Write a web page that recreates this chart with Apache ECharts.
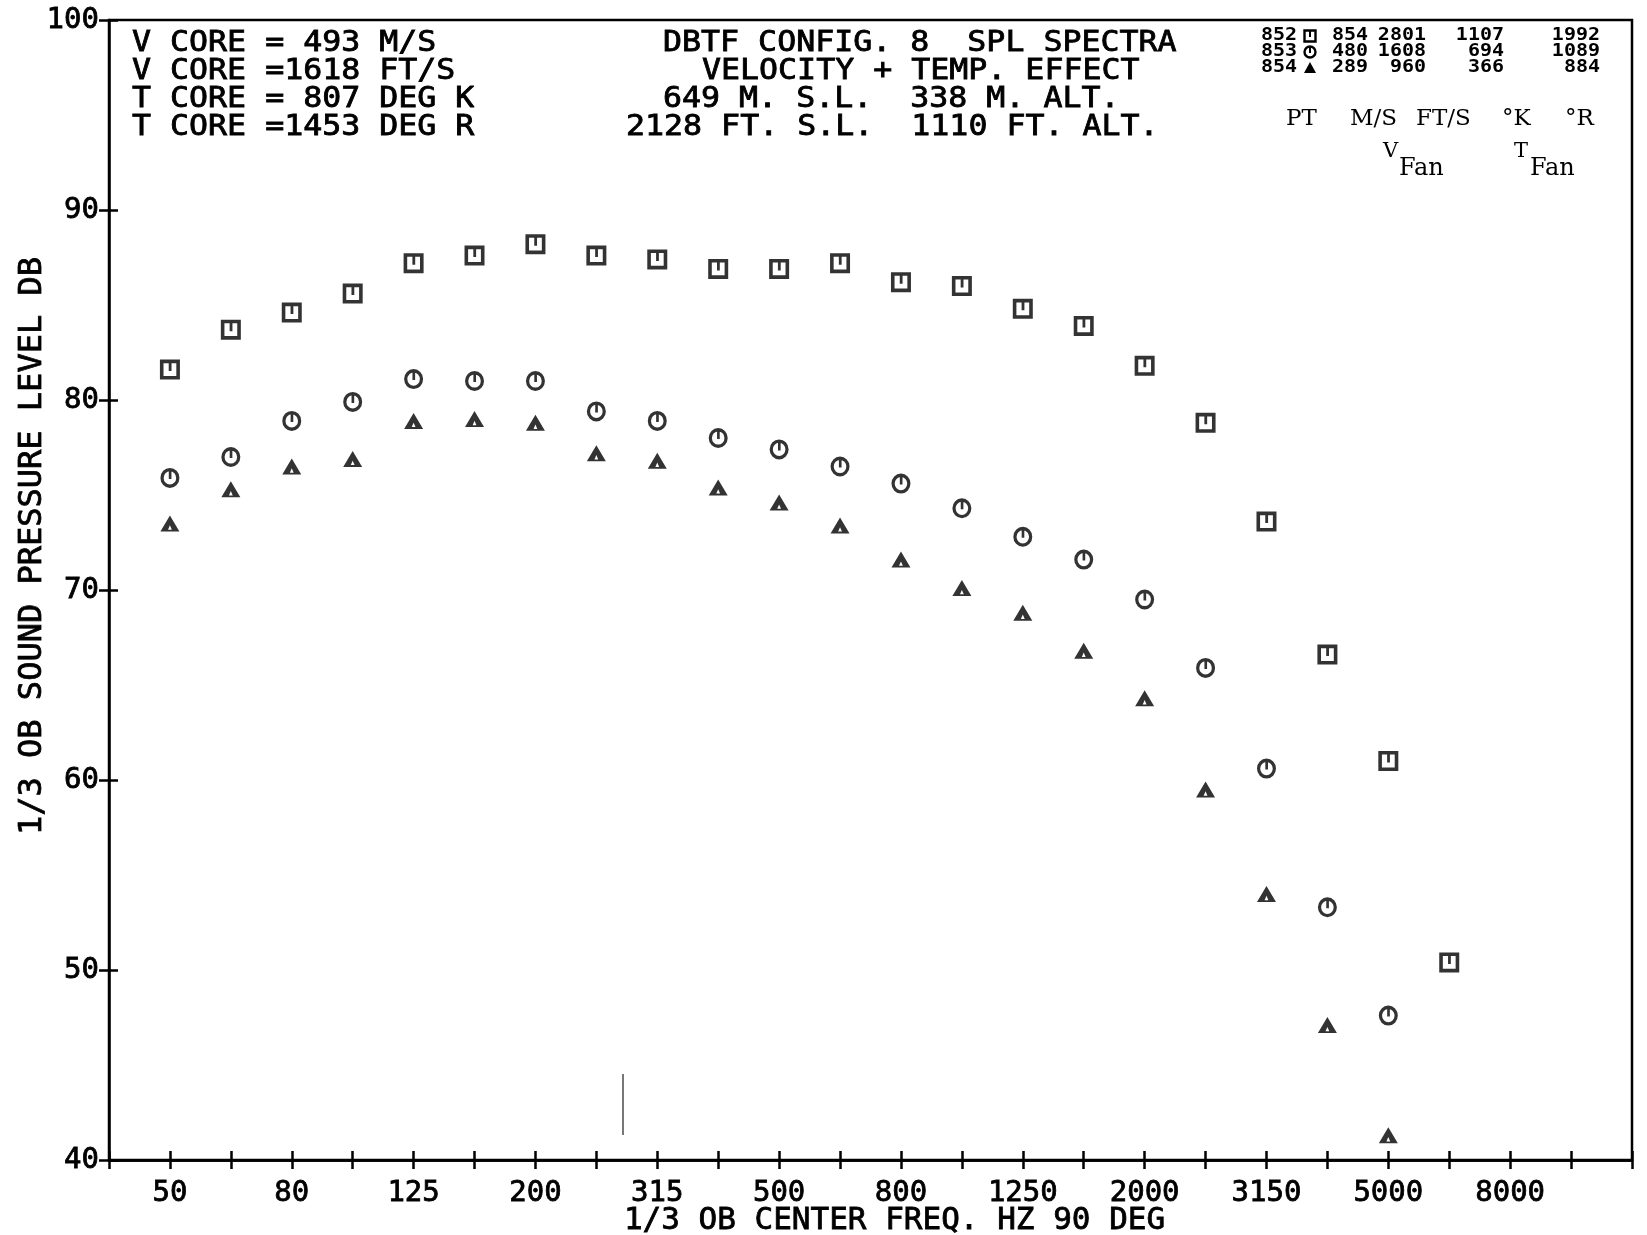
<!DOCTYPE html>
<html>
<head>
<meta charset="utf-8">
<title>DBTF Config. 8 SPL Spectra</title>
<script src="https://cdn.jsdelivr.net/npm/echarts@6/dist/echarts.min.js"></script>
<style>
  html, body { margin: 0; padding: 0; background: #fff; }
  #chart { width: 1647px; height: 1235px; }
</style>
</head>
<body>
<div id="chart"></div>
<script>
// 1/3-octave band centre frequencies, one axis unit per band (40 Hz at 0)
const bands = ['40', '50', '63', '80', '100', '125', '160', '200', '250', '315', '400', '500',
  '630', '800', '1000', '1250', '1600', '2000', '2500', '3150', '4000', '5000', '6300', '8000',
  '10000', '12500'];
const labelledBands = ['50', '80', '125', '200', '315', '500', '800', '1250', '2000', '3150', '5000', '8000'];

// measured bands for each test point
const freqs852 = ['50', '63', '80', '100', '125', '160', '200', '250', '315', '400', '500', '630',
  '800', '1000', '1250', '1600', '2000', '2500', '3150', '4000', '5000', '6300'];
const freqs853 = freqs852.slice(0, 21);
const freqs854 = freqs852.slice(0, 21);

// SPL, dB
const spl852 = [81.6, 83.7, 84.6, 85.6, 87.2, 87.6, 88.2, 87.6, 87.4, 86.9, 86.9, 87.2,
  86.2, 86.0, 84.8, 83.9, 81.8, 78.8, 73.6, 66.6, 61.0, 50.4];
const spl853 = [75.9, 77.0, 78.9, 79.9, 81.1, 81.0, 81.0, 79.4, 78.9, 78.0, 77.4, 76.5,
  75.6, 74.3, 72.8, 71.6, 69.5, 65.9, 60.6, 53.3, 47.6];
const spl854 = [73.5, 75.3, 76.5, 76.9, 78.9, 79.0, 78.8, 77.2, 76.8, 75.4, 74.6, 73.4,
  71.6, 70.1, 68.8, 66.8, 64.3, 59.5, 54.0, 47.1, 41.3];

// fan conditions table
const tablePoints = ['852', '853', '854'];
const vFanMs = ['854', '480', '289'];
const vFanFts = ['2801', '1608', '960'];
const tFanK = ['1107', '694', '366'];
const tFanR = ['1992', '1089', '884'];

const coreLines = ['V CORE = 493 M/S', 'V CORE =1618 FT/S', 'T CORE = 807 DEG K', 'T CORE =1453 DEG R'];
const titleLines = ['DBTF CONFIG. 8  SPL SPECTRA', 'VELOCITY + TEMP. EFFECT', '649 M. S.L.  338 M. ALT.', '2128 FT. S.L.  1110 FT. ALT.'];
const yTicks = [40, 50, 60, 70, 80, 90, 100];

// plotter symbols: hollow square / circle with a short stem, solid triangle with a notch
const SYM_SQUARE = 'path://M0 0H20V20H0Z M3.6 3.6V16.4H16.4V3.6Z M8.8 3.6H11.6V11.5H8.8Z';
const SYM_CIRCLE = 'path://M10 0A10 10 0 1 1 10 20A10 10 0 1 1 10 0Z M10 3.4A6.6 6.6 0 1 0 10 16.6A6.6 6.6 0 1 0 10 3.4Z M8.8 3H11.6V11H8.8Z';
const SYM_TRI = 'path://M10 0L20 18H0Z M10 11L8 16H12Z';

const INK = '#000';
const MONO = '"DejaVu Sans Mono", "Liberation Mono", monospace';
const SERIF = '"DejaVu Serif", "Liberation Serif", serif';

const toPoints = (fs, vs) => fs.map((f, i) => [bands.indexOf(f), vs[i]]);

const chart = echarts.init(document.getElementById('chart'), null, { renderer: 'canvas' });

function txt(t, x, y, font, opts) {
  opts = opts || {};
  return { type: 'text', x: x, y: y, silent: true,
    scaleX: opts.sx || 1, scaleY: opts.sy || 1,
    style: { text: t, font: font, fill: INK, align: opts.align || 'left', verticalAlign: 'middle',
      stroke: opts.stroke ? INK : null, lineWidth: opts.stroke || 0 } };
}

const graphics = [];
const headFont = '31.6px ' + MONO;
coreLines.forEach((t, i) => graphics.push(txt(t, 132, 43 + i * 28, headFont, { sy: 0.92, stroke: 0.9 })));
const titleLeft = [663, 702, 663, 626];
titleLines.forEach((t, i) => graphics.push(txt(t, titleLeft[i], 43 + i * 28, headFont, { sy: 0.92, stroke: 0.9 })));

// fan-condition table
const rowY = [36, 52, 68];
const colRight = [1368, 1426, 1504, 1600];
const symX = 1310;
const tabFont = 'bold 20px ' + MONO;
tablePoints.forEach((p, i) => {
  graphics.push(txt(p, 1297, rowY[i], tabFont, { sy: 0.85, align: 'right' }));
  [vFanMs[i], vFanFts[i], tFanK[i], tFanR[i]].forEach((v, j) => {
    graphics.push(txt(v, colRight[j], rowY[i], tabFont, { sy: 0.85, align: 'right' }));
  });
});
graphics.push({ type: 'rect', shape: { x: symX - 5.5, y: rowY[0] - 5.5, width: 11, height: 11 },
  style: { fill: 'none', stroke: INK, lineWidth: 2.4 } });
graphics.push({ type: 'line', shape: { x1: symX, y1: rowY[0] - 5, x2: symX, y2: rowY[0] + 1 },
  style: { stroke: INK, lineWidth: 2 } });
graphics.push({ type: 'circle', shape: { cx: symX, cy: rowY[1], r: 5.5 },
  style: { fill: 'none', stroke: INK, lineWidth: 2.4 } });
graphics.push({ type: 'line', shape: { x1: symX, y1: rowY[1] - 5, x2: symX, y2: rowY[1] + 1 },
  style: { stroke: INK, lineWidth: 2 } });
graphics.push({ type: 'polygon', shape: { points: [[symX, rowY[2] - 6], [symX + 6, rowY[2] + 5], [symX - 6, rowY[2] + 5]] },
  style: { fill: INK } });

[['PT', 1286], ['M/S', 1350], ['FT/S', 1416], ['\u00b0K', 1502], ['\u00b0R', 1565]].forEach(([t, x]) => {
  graphics.push(txt(t, x, 119, '23px ' + SERIF));
});
[['V', 1383], ['T', 1514]].forEach(([t, x]) => {
  graphics.push(txt(t, x, 152, '21px ' + SERIF));
  graphics.push(txt('Fan', x + 16, 169, '24px ' + SERIF));
});
// pen stroke left on the sheet
graphics.push({ type: 'line', silent: true, shape: { x1: 623, y1: 1074, x2: 623, y2: 1135 },
  style: { stroke: '#777', lineWidth: 2 } });

const labelStyle = { color: INK, fontFamily: MONO, fontSize: 29, textBorderColor: INK, textBorderWidth: 0.8 };

const baseX = {
  type: 'value', min: 0, max: 25, interval: 1, position: 'bottom',
  axisLine: { show: true, onZero: false, lineStyle: { color: INK, width: 2.5 } },
  splitLine: { show: false }
};

const option = {
  backgroundColor: '#fff',
  animation: false,
  grid: { left: 109, right: 15, top: 20, bottom: 75, outerBoundsMode: 'none', containLabel: false,
    show: true, borderColor: INK, borderWidth: 2.5 },
  xAxis: [
    Object.assign({}, baseX, {
      name: '1/3 OB CENTER FREQ. HZ 90 DEG', nameLocation: 'middle', nameGap: 45, nameMoveOverlap: false,
      nameTextStyle: Object.assign({}, labelStyle, { fontSize: 31, padding: [0, 0, 0, 48] }),
      axisTick: { show: true, inside: false, length: 9, lineStyle: { color: INK, width: 2.5 } },
      axisLabel: Object.assign({}, labelStyle, {
        margin: 19, showMinLabel: true, showMaxLabel: true, hideOverlap: false,
        formatter: v => (labelledBands.indexOf(bands[v]) >= 0 ? bands[v] : '')
      })
    }),
    Object.assign({}, baseX, {
      axisTick: { show: true, inside: true, length: 9, lineStyle: { color: INK, width: 2.5 } },
      axisLabel: { show: false }
    })
  ],
  yAxis: [
    {
      type: 'value', min: 40, max: 100, interval: 10, position: 'left',
      name: '1/3 OB SOUND PRESSURE LEVEL DB', nameLocation: 'middle', nameGap: 60, nameRotate: 90,
      nameMoveOverlap: false,
      nameTextStyle: Object.assign({}, labelStyle, { fontSize: 32, padding: [0, 0, 0, 88] }),
      axisLine: { show: true, lineStyle: { color: INK, width: 2.5 } },
      axisTick: { show: true, inside: false, length: 10, lineStyle: { color: INK, width: 2.5 } },
      axisLabel: Object.assign({}, labelStyle, { margin: 10,
        formatter: v => (yTicks.indexOf(v) >= 0 ? String(v) : '') }),
      splitLine: { show: false }
    },
    {
      type: 'value', min: 40, max: 100, interval: 10, position: 'left',
      axisLine: { show: false },
      axisTick: { show: true, inside: true, length: 9, lineStyle: { color: INK, width: 2.5 } },
      axisLabel: { show: false },
      splitLine: { show: false }
    }
  ],
  series: [
    { name: '852', type: 'scatter', symbol: SYM_SQUARE, symbolSize: [20, 20],
      itemStyle: { color: INK }, data: toPoints(freqs852, spl852) },
    { name: '853', type: 'scatter', symbol: SYM_CIRCLE, symbolSize: [19, 20],
      itemStyle: { color: INK }, data: toPoints(freqs853, spl853) },
    { name: '854', type: 'scatter', symbol: SYM_TRI, symbolSize: [19, 16],
      itemStyle: { color: INK }, data: toPoints(freqs854, spl854) }
  ],
  graphic: graphics
};

chart.setOption(option);
</script>
</body>
</html>
